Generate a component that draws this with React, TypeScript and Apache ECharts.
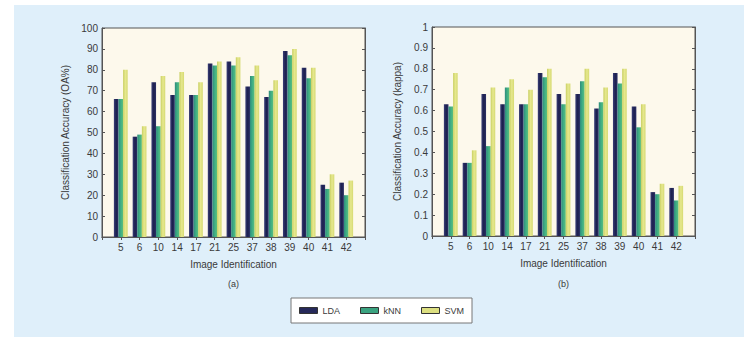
import React, { useEffect, useRef } from 'react';
import * as echarts from 'echarts';

const categories = ['5', '6', '10', '14', '17', '21', '25', '37', '38', '39', '40', '41', '42'];
const seriesNames = ['LDA', 'kNN', 'SVM'];
const oaLDA = [66, 48, 74, 68, 68, 83, 84, 72, 67, 89, 81, 25, 26];
const oaKNN = [66, 49, 53, 74, 68, 82, 82, 77, 70, 87, 76, 23, 20];
const oaSVM = [80, 53, 77, 79, 74, 84, 86, 82, 75, 90, 81, 30, 27];
const kLDA = [0.63, 0.35, 0.68, 0.63, 0.63, 0.78, 0.68, 0.68, 0.61, 0.78, 0.62, 0.21, 0.23];
const kKNN = [0.62, 0.35, 0.43, 0.71, 0.63, 0.76, 0.63, 0.74, 0.64, 0.73, 0.52, 0.2, 0.17];
const kSVM = [0.78, 0.41, 0.71, 0.75, 0.7, 0.8, 0.73, 0.8, 0.71, 0.8, 0.63, 0.25, 0.24];

const FONT = 'Liberation Sans, Arial, sans-serif';
const TXT = '#3a3a3a';

const grad = (a: string, b: string, c: string) =>
  new echarts.graphic.LinearGradient(0, 0, 1, 0, [
    { offset: 0, color: a },
    { offset: 0.5, color: b },
    { offset: 1, color: c },
  ]);

export default function App() {
  const ref = useRef<HTMLDivElement>(null);
  useEffect(() => {
    if (!ref.current) return;
    const chart = echarts.init(ref.current, undefined, { renderer: 'svg' });
    const padCats = ['', ...categories, ''];
    const pad = (arr: number[]) => ['-', ...arr, '-'];
    const colors = [
      grad('#3a3f78', '#1c1f4e', '#2c3066'),
      grad('#2f8a7c', '#3fae84', '#5cbf7c'),
      grad('#c9cf62', '#e6e88e', '#d6da72'),
    ];
    const legendColors = ['#26295a', '#3aa380', '#dcdf80'];
    const grids = [
      { left: 102, top: 28, width: 263, height: 209 },
      { left: 432, top: 27, width: 263, height: 209 },
    ];
    const xAxes: any[] = [];
    const yAxes: any[] = [];
    grids.forEach((g, i) => {
      xAxes.push({
        type: 'category',
        gridIndex: i,
        data: padCats,
        boundaryGap: false,
        position: 'bottom',
        axisLine: { show: true, lineStyle: { color: '#555' } },
        axisTick: { show: true, inside: true, length: 3, lineStyle: { color: '#555' } },
        axisLabel: { show: true, color: TXT, fontSize: 10, fontFamily: FONT, margin: 5, interval: 0 },
        splitLine: { show: false },
        name: 'Image Identification',
        nameLocation: 'middle',
        nameGap: 22,
        nameTextStyle: { color: TXT, fontSize: 10, fontFamily: FONT },
      });
      xAxes.push({
        type: 'category',
        gridIndex: i,
        data: padCats,
        boundaryGap: false,
        position: 'top',
        axisLine: { show: true, lineStyle: { color: '#555' } },
        axisTick: { show: true, inside: true, length: 3, lineStyle: { color: '#555' } },
        axisLabel: { show: false },
        splitLine: { show: false },
      });
      const isA = i === 0;
      const common = {
        type: 'value',
        gridIndex: i,
        min: 0,
        max: isA ? 100 : 1,
        interval: isA ? 10 : 0.1,
        splitLine: { show: false },
        axisLine: { show: true, lineStyle: { color: '#555' } },
        axisTick: { show: true, inside: true, length: 3, lineStyle: { color: '#555' } },
      };
      yAxes.push({
        ...common,
        position: 'left',
        axisLabel: {
          show: true,
          color: TXT,
          fontSize: 10,
          fontFamily: FONT,
          margin: 4,
          formatter: (v: number) => (isA ? String(Math.round(v)) : String(Math.round(v * 10) / 10)),
        },
        name: isA ? 'Classification Accuracy (OA%)' : 'Classification Accuracy (kappa)',
        nameLocation: 'middle',
        nameGap: isA ? 32 : 30,
        nameTextStyle: { color: TXT, fontSize: 10, fontFamily: FONT },
      });
      yAxes.push({ ...common, position: 'right', axisLabel: { show: false } });
    });

    const data = [
      [oaLDA, oaKNN, oaSVM],
      [kLDA, kKNN, kSVM],
    ];
    const series: any[] = [];
    data.forEach((set, gi) => {
      set.forEach((vals, si) => {
        series.push({
          type: 'bar',
          name: seriesNames[si],
          xAxisIndex: gi * 2,
          yAxisIndex: gi * 2,
          data: pad(vals),
          barWidth: 4.6,
          barGap: '0%',
          itemStyle: { color: colors[si] },
          emphasis: { disabled: true },
        });
      });
    });

    chart.setOption({
      animation: false,
      grid: grids.map((g) => ({
        ...g,
        show: true,
        backgroundColor: '#fdf9ec',
        borderColor: '#555',
        borderWidth: 1,
      })),
      xAxis: xAxes,
      yAxis: yAxes,
      legend: {
        data: seriesNames.map((n, i) => ({ name: n, itemStyle: { color: legendColors[i], borderColor: '#333', borderWidth: 1 } })),
        left: 291,
        top: 298,
        orient: 'horizontal',
        itemWidth: 18,
        itemHeight: 6,
        itemGap: 20,
        padding: [8, 8],
        borderColor: '#777',
        borderWidth: 1,
        backgroundColor: '#ffffff',
        textStyle: { color: TXT, fontSize: 9, fontFamily: FONT },
        icon: 'rect',
      },
      graphic: [
        {
          type: 'text',
          x: 233.5,
          y: 284,
          style: { text: '(a)', fill: TXT, fontSize: 9, fontFamily: FONT, align: 'center', verticalAlign: 'middle' },
        },
        {
          type: 'text',
          x: 563.5,
          y: 284,
          style: { text: '(b)', fill: TXT, fontSize: 9, fontFamily: FONT, align: 'center', verticalAlign: 'middle' },
        },
      ],
      series,
    });
    return () => chart.dispose();
  }, []);

  return (
    <div style={{ position: 'fixed', left: 0, top: 0, width: 744, height: 337, background: '#ffffff' }}>
      <div style={{ position: 'absolute', left: 14, top: 5, width: 730, height: 332, background: '#dfeffa' }} />
      <div ref={ref} style={{ position: 'absolute', left: 0, top: 0, width: 744, height: 337 }} />
    </div>
  );
}
